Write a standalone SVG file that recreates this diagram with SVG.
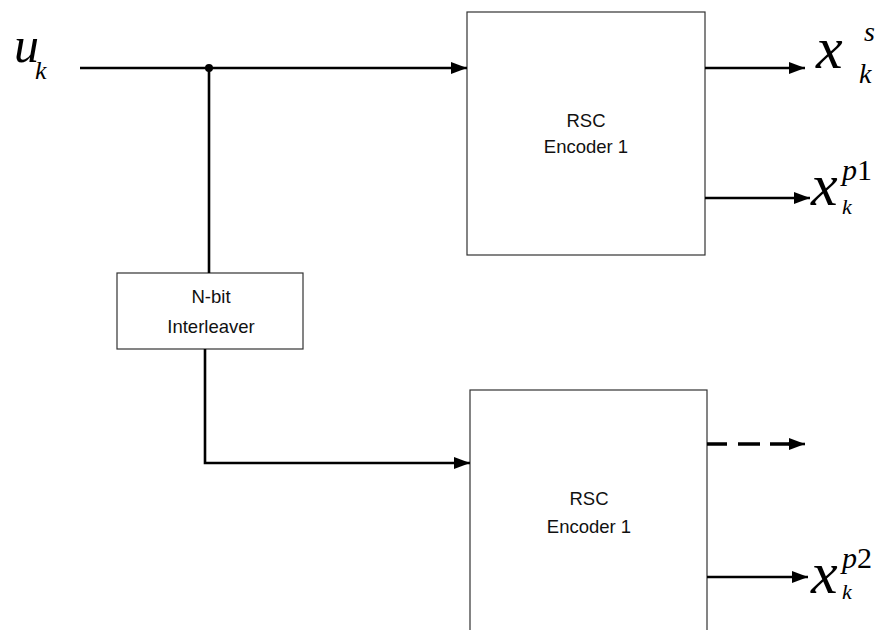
<svg xmlns="http://www.w3.org/2000/svg" width="882" height="630" viewBox="0 0 882 630">
<style>
.box{fill:#fff;stroke:#333;stroke-width:1.2}
.lbl{font-family:"Liberation Sans",Arial,sans-serif;font-size:18.5px;fill:#111;text-anchor:middle}
.w{stroke:#000;stroke-width:2.6;fill:none}
.d{stroke:#000;stroke-width:3.6;fill:none}
.m{font-family:"Liberation Serif","Times New Roman",serif;font-style:italic;fill:#000}
.up{font-style:normal}
</style>
<defs>
<marker id="ah" markerUnits="userSpaceOnUse" markerWidth="16" markerHeight="12" refX="16" refY="6" orient="auto">
<path d="M0,0 L16,6 L0,12 Z" fill="#000"/>
</marker>
</defs>
<rect width="882" height="630" fill="#fff"/>
<g id="enc1">
<rect class="box" x="467" y="12" width="238" height="243"/>
<text class="lbl" x="586" y="127">RSC</text>
<text class="lbl" x="586" y="153">Encoder 1</text>
</g>
<g id="enc2">
<rect class="box" x="470" y="390" width="237" height="260"/>
<text class="lbl" x="589" y="505">RSC</text>
<text class="lbl" x="589" y="533">Encoder 1</text>
</g>
<g id="interleaver">
<rect class="box" x="117" y="273" width="186" height="76"/>
<text class="lbl" x="211" y="303">N-bit</text>
<text class="lbl" x="211" y="333">Interleaver</text>
</g>
<g id="connectors">
<path class="w" d="M80,68 H467" marker-end="url(#ah)"/>
<circle cx="209" cy="68" r="4" fill="#000"/>
<path class="w" d="M209,68 V273"/>
<path class="w" d="M205,349 V463 H470" marker-end="url(#ah)"/>
<path class="w" d="M705,68 H805" marker-end="url(#ah)"/>
<path class="w" d="M705,198 H810" marker-end="url(#ah)"/>
<path class="d" d="M707,444 H727 M738,444 H760 M770,444 H790"/>
<path class="w" d="M788,444 H805" marker-end="url(#ah)"/>
<path class="w" d="M707,577 H808" marker-end="url(#ah)"/>
</g>
<g id="labels">
<text class="m" x="14" y="62" font-size="50">u</text>
<text class="m" x="35" y="79" font-size="26">k</text>
<text class="m" x="816" y="68" font-size="60">x</text>
<text class="m" x="864" y="41" font-size="28">s</text>
<text class="m" x="859" y="83" font-size="28">k</text>
<text class="m" x="811" y="205" font-size="60">x</text>
<text class="m" x="842" y="180" font-size="30">p<tspan class="up">1</tspan></text>
<text class="m" x="842" y="214" font-size="22">k</text>
<text class="m" x="811" y="593" font-size="60">x</text>
<text class="m" x="842" y="568" font-size="30">p<tspan class="up">2</tspan></text>
<text class="m" x="842" y="599" font-size="22">k</text>
</g>
</svg>
